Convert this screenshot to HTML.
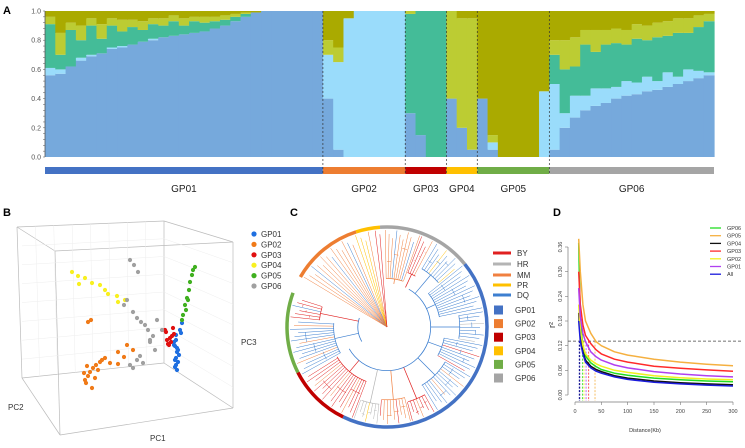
<!DOCTYPE html>
<html><head><meta charset="utf-8"><style>
body{margin:0;background:#fff}
svg{display:block;font-family:"Liberation Sans",Arial,sans-serif}
</style></head><body>
<svg id="fig" width="745" height="448" viewBox="0 0 745 448" xmlns="http://www.w3.org/2000/svg">
<text x="3" y="14" font-size="11" font-weight="bold">A</text>
<text x="3" y="216" font-size="11" font-weight="bold">B</text>
<text x="290" y="216" font-size="11" font-weight="bold">C</text>
<text x="553" y="216" font-size="11" font-weight="bold">D</text>
<g id="pa"></g>
<g id="pb"></g>
<g id="pc"></g>
<g id="pd"></g>
</svg>
<script>
// ===== Panel A data =====
const groupNames = ["GP01","GP02","GP03","GP04","GP05","GP06"];
const groupCounts = [27,8,4,3,7,16];
const groupColors = ["#4472c4","#ed7d31","#c00000","#ffc000","#70ad47","#a5a5a5"];
const kBlue = [.56,.57,.62,.66,.69,.71,.74,.75,.77,.79,.8,.82,.83,.84,.85,.86,.88,.9,.93,.96,.99,1,1,1,1,1,1,
 .4,.05,0,0,0,0,0,0, .3,.15,0,0, .4,.2,.05, .4,.05,0,0,0,0,0,
 .05,.2,.27,.32,.35,.37,.4,.42,.43,.45,.46,.48,.5,.52,.54,.56];
const kLightBlue = [.05,.03,0,.02,.01,0,.01,.01,0,0,.01,0,0,0,0,0,0,0,0,0,0,0,0,0,0,0,0,
 .3,.6,.95,1,1,1,1,1, 0,0,0,0, 0,0,0, 0,.05,0,0,0,0,.45,
 .45,.1,.15,.1,.12,.1,.08,.1,.08,.1,.06,.1,.05,.08,.05,.02];
const kTeal = [.3,.1,.25,.12,.2,.1,.15,.1,.12,.08,.1,.08,.1,.06,.08,.06,.05,.04,.03,.02,0,0,0,0,0,0,0,
 0,0,0,0,0,0,0,0, .68,.85,1,1, 0,0,0, 0,0,0,0,0,0,0,
 .2,.3,.2,.35,.25,.3,.3,.25,.3,.25,.3,.25,.3,.25,.3,.35];
const kYellowGreen = [.05,.15,.05,.1,.05,.1,.05,.08,.05,.06,.04,.05,.04,.05,.03,.04,.03,.03,.02,.01,0,0,0,0,0,0,0,
 .1,.1,0,0,0,0,0,0, .02,0,0,0, .6,.75,.9, 0,.05,0,0,0,0,0,
 .1,.2,.2,.1,.15,.1,.1,.1,.1,.1,.1,.1,.1,.1,.08,.05];
const yTicksA = ["1.0","0.8","0.6","0.4","0.2","0.0"];

// ===== Panel B data =====
const pcaGroups = ["GP01","GP02","GP03","GP04","GP05","GP06"];
const pcaColors = ["#1f6fe0","#f07a18","#e01010","#f8f020","#40b020","#a0a0a0"];
const pcaX = [[177,176,178,175,174,176,177,179,180,176,175,178,182,181,176,174,177,175],
 [93,90,88,86,85,96,100,105,92,95,84,87,98,102,110,118,124,133,88,91,118,127],
 [170,167,168,172,166,174,171,165,169,173],
 [72,78,85,92,100,105,108,117,118,125,79],
 [183,185,187,189,190,192,193,195,186,182,188],
 [130,134,138,127,124,133,137,141,145,148,150,153,155,137,140,143,133,130,157,150,162]];
const pcaY = [[352,358,362,367,345,340,348,355,330,335,360,350,323,333,365,342,370,346],
 [368,372,376,383,380,365,362,358,388,378,373,366,370,360,363,364,357,350,322,320,352,345],
 [338,340,344,336,332,334,342,330,345,328],
 [272,276,278,283,285,290,294,296,302,300,284],
 [315,305,298,290,282,275,270,267,310,320,300],
 [260,265,272,300,305,312,318,322,325,330,342,336,350,360,356,363,368,365,320,340,330]];

// ===== Panel C data =====
const lineageNames = ["BY","HR","MM","PR","DQ"];
const lineageColors = ["#e02020","#b4b4b4","#f08040","#ffc000","#3d7fd0"];
const ringStart = [-39,-150,116,-108,153,-94];
const ringEnd = [116,-108,153,-94,200,-39];
const cladeStart = [-150,-110,-98,-92,-70,-60,-40,-10,10,30,60,75,95,110,150,185];
const cladeEnd = [-112,-100,-92,-70,-60,-40,-10,10,30,60,75,95,110,150,185,198];
const cladeNode = [0,0,0,.5,.6,.7,.55,.75,.6,.7,.8,.75,.8,.6,.55,.7];
const cladeLineage = [2,3,0,2,0,4,4,4,4,4,0,2,1,0,4,0];
const cladeMix = [4,2,2,4,2,3,4,1,0,2,2,0,3,2,2,4];

// ===== Panel D data =====
const ldDist = [7,10,15,20,30,40,50,75,100,150,200,250,300];
const ldNames = ["GP06","GP05","GP04","GP03","GP02","GP01","All"];
const ldColors = ["#22dd22","#f5b040","#111111","#ff2a2a","#f0f020","#b040f0","#1a1adc"];
const ldValues = [
 [0.37,0.18,0.12,0.095,0.078,0.069,0.062,0.053,0.048,0.041,0.037,0.034,0.032],
 [0.38,0.30,0.22,0.18,0.15,0.13,0.12,0.105,0.097,0.087,0.08,0.075,0.071],
 [0.20,0.14,0.105,0.085,0.07,0.062,0.057,0.047,0.041,0.034,0.030,0.027,0.025],
 [0.30,0.22,0.17,0.145,0.125,0.11,0.10,0.087,0.08,0.07,0.065,0.061,0.058],
 [0.22,0.16,0.12,0.10,0.085,0.076,0.07,0.06,0.055,0.047,0.042,0.039,0.037],
 [0.26,0.19,0.15,0.13,0.105,0.093,0.085,0.073,0.066,0.057,0.051,0.047,0.044],
 [0.18,0.13,0.10,0.08,0.066,0.058,0.053,0.044,0.038,0.031,0.027,0.024,0.022]];
const ldHalf = [14,38,9,26,17,21,8];
const ldThreshold = 0.131;
const xTicksD = [0,50,100,150,200,250,300];
const yTicksD = ["0.00","0.06","0.12","0.18","0.24","0.30","0.36"];

const NS="http://www.w3.org/2000/svg";
function mk(tag,attrs,parent,txt){const e=document.createElementNS(NS,tag);for(const k in attrs)e.setAttribute(k,attrs[k]);if(txt!==undefined)e.textContent=txt;parent.appendChild(e);return e;}

// ---- Panel A ----
(function(){
 const g=document.getElementById('pa');
 const L=45,R=714,T=11,B=157;
 const n=kBlue.length, w=(R-L)/n;
 const xs=i=>L+i*w, ys=v=>B-v*(B-T);
 const comps=[kBlue,kLightBlue,kTeal,kYellowGreen];
 const cc=["#76a9dc","#9adcfb","#44bc98","#bccc33","#aaaa00"];
 for(let i=0;i<n;i++){
  let acc=0;
  const vals=comps.map(a=>a[i]); vals.push(Math.max(0,1-vals.reduce((s,v)=>s+v,0)));
  vals.forEach((v,k)=>{ if(v<=0)return;
   const r=mk('rect',{x:xs(i),y:ys(Math.min(1,acc+v)),width:w+0.6,height:Math.min(v,1-acc)*(B-T),fill:cc[k]},g);
   
   
   acc+=v;});
 }
 const ax=mk('line',{x1:L,y1:T,x2:L,y2:B,stroke:'#555','stroke-width':0.8},g);
 
 yTicksA.forEach((t,i)=>{const y=T+i*(B-T)/5;
  const tx=mk('text',{x:L-4,y:y+2.5,'font-size':7,'text-anchor':'end',fill:'#555'},g,t);
  
  const nm=i<5?5:1;
  for(let m=0;m<nm;m++){mk('line',{x1:L-2,y1:y+m*(B-T)/25,x2:L,y2:y+m*(B-T)/25,stroke:'#555','stroke-width':0.5},g);}
 });
 let start=0;
 groupCounts.forEach((c,gi)=>{
  const x0=xs(start),x1=xs(start+c);
  const r=mk('rect',{x:x0,y:167,width:x1-x0,height:7,fill:groupColors[gi]},g);
  
  const t=mk('text',{x:(x0+x1)/2,y:192,'font-size':10,'text-anchor':'middle',fill:'#222'},g,groupNames[gi]);
  
  if(gi>0){const d=mk('line',{x1:x0,y1:T,x2:x0,y2:174,stroke:'#333','stroke-width':0.7,'stroke-dasharray':'2,2'},g);
   }
  start+=c;
 });
})();

// ---- Panel B ----
(function(){
 const g=document.getElementById('pb');
 const P={btl:[17,227],btr:[164,221],ftl:[55,251],ftr:[233,242],fbr:[233,408],fbl:[60,435],bbl:[22,378],bbr:[164,363]};
 const edges=[['btl','btr'],['btl','ftl'],['btr','ftr'],['ftl','ftr'],['ftr','fbr'],['fbr','fbl'],['ftl','fbl'],['btl','bbl'],['bbl','fbl'],['bbl','bbr'],['bbr','fbr'],['bbr','btr']];
 edges.forEach(e=>{const l=mk('line',{x1:P[e[0]][0],y1:P[e[0]][1],x2:P[e[1]][0],y2:P[e[1]][1],stroke:'#bbb','stroke-width':0.7},g);
  });
 for(let k=1;k<8;k++){const f=k/8;
  mk('line',{x1:22+142*f,y1:378-15*f,x2:17+147*f,y2:227-6*f,stroke:'#eee','stroke-width':0.5},g);
  mk('line',{x1:164,y1:363-142*f,x2:22,y2:378-151*f,stroke:'#eee','stroke-width':0.5},g);
  mk('line',{x1:164,y1:221+142*f,x2:233,y2:242+166*f,stroke:'#eee','stroke-width':0.5},g);
 }
 pcaX.forEach((arr,gi)=>arr.forEach((x,i)=>{
  const c=mk('circle',{cx:x,cy:pcaY[gi][i],r:2.1,fill:pcaColors[gi]},g);
  }));
 pcaGroups.forEach((n,i)=>{const y=234+i*10.4;
  const c=mk('circle',{cx:254,cy:y,r:2.6,fill:pcaColors[i]},g);
  
  const t=mk('text',{x:261,y:y+3,'font-size':8,fill:'#333'},g,n);
  });
 [['PC1',150,441],['PC3',241,345],['PC2',8,410]].forEach(a=>{
  const t=mk('text',{x:a[1],y:a[2],'font-size':8,fill:'#333'},g,a[0]);
  });
})();

// ---- Panel C ----
(function(){
 const g=document.getElementById('pc');
 const cx=387,cy=327,R=97;
 const pt=(a,r)=>[cx+r*Math.cos(a*Math.PI/180),cy+r*Math.sin(a*Math.PI/180)];
 function arc(a0,a1,r,col,w,name){
  const p0=pt(a0,r),p1=pt(a1,r);const large=(a1-a0)>180?1:0;
  const p=mk('path',{d:`M${p0[0]},${p0[1]} A${r},${r} 0 ${large} 1 ${p1[0]},${p1[1]}`,fill:'none',stroke:col,'stroke-width':w},g);
  }
 arc(-60,150,R*0.45,'#3d7fd0',0.8,'tree-backbone');
 arc(150,198,R*0.3,'#3d7fd0',0.8,'tree-backbone');
 cladeStart.forEach((a0,ci)=>{
  const a1=cladeEnd[ci], nr=cladeNode[ci]*R;
  const col=lineageColors[cladeLineage[ci]], mix=lineageColors[cladeMix[ci]];
  let k=0;
  const step=nr===0?2.6:2.3;
  for(let a=a0+1;a<a1;a+=step,k++){
   const c=(k%5===3)?mix:col;
   const p0=nr===0?[cx,cy]:pt(a,nr), p1=pt(a,R-(k%3)*4);
   const l=mk('line',{x1:p0[0],y1:p0[1],x2:p1[0],y2:p1[1],stroke:c,'stroke-width':0.5},g);
   
  }
  if(nr>0){arc(a0+0.8,a1-0.8,nr,col,0.7,'clade-arc');
   for(let s=0;s<3;s++){arc(a0+2+s*(a1-a0)/4,a0+(s+1)*(a1-a0)/4,nr+(R-nr)*(0.35+s*0.15),col,0.5,'subclade-arc');}
   const m=(a0+a1)/2, base=(a0>=150?0.3:0.45)*R, q0=pt(m,base), q1=pt(m,nr);
   const s=mk('line',{x1:q0[0],y1:q0[1],x2:q1[0],y2:q1[1],stroke:col,'stroke-width':0.7},g);
   }
 });
 ringStart.forEach((a0,i)=>arc(a0,ringEnd[i],R+3,groupColors[i],3.5,'group-ring-'+groupNames[i].toLowerCase()));
 const ys=[253,264,275,285,295];
 lineageNames.forEach((n,i)=>{
  const l=mk('line',{x1:493,y1:ys[i],x2:511,y2:ys[i],stroke:lineageColors[i],'stroke-width':3},g);
  
  const t=mk('text',{x:517,y:ys[i]+3,'font-size':8,fill:'#333'},g,n);
  });
 groupNames.forEach((n,i)=>{const y=310+i*13.6;
  const r=mk('rect',{x:494,y:y-4.5,width:9,height:9,fill:groupColors[i]},g);
  
  const t=mk('text',{x:515,y:y+3,'font-size':8,fill:'#333'},g,n);
  });
})();

// ---- Panel D ----
(function(){
 const g=document.getElementById('pd');
 const L=575,Rr=733,T=247,B=395;
 const xs=d=>L+d/300*(Rr-L), ys=v=>B-v/0.36*(B-T);
 const ax=mk('line',{x1:568,y1:ys(0.36),x2:568,y2:B,stroke:'#777','stroke-width':0.7},g);
 
 yTicksD.forEach((t,i)=>{const y=ys(i*0.06);
  mk('line',{x1:565,y1:y,x2:568,y2:y,stroke:'#777','stroke-width':0.6},g);
  const tx=mk('text',{x:562,y:y,'font-size':5.5,fill:'#444','text-anchor':'middle',transform:`rotate(-90 562 ${y})`},g,t);
  });
 const xa=mk('line',{x1:xs(0),y1:402,x2:xs(300),y2:402,stroke:'#777','stroke-width':0.7},g);
 
 xTicksD.forEach(t=>{const x=xs(t);
  mk('line',{x1:x,y1:402,x2:x,y2:405,stroke:'#777','stroke-width':0.6},g);
  const tx=mk('text',{x:x,y:413,'font-size':5.5,fill:'#444','text-anchor':'middle'},g,t);
  });
 const xt=mk('text',{x:645,y:432,'font-size':5.5,fill:'#333','text-anchor':'middle'},g,'Distance(Kb)');
 
 const yt=mk('text',{x:555,y:325,'font-size':9,fill:'#222','text-anchor':'middle',transform:'rotate(-90 555 325)'},g,'r²');
 
 const th=mk('line',{x1:568,y1:ys(ldThreshold),x2:743,y2:ys(ldThreshold),stroke:'#444','stroke-width':0.7,'stroke-dasharray':'3,2'},g);
 
 ldHalf.forEach((d,i)=>{const v=mk('line',{x1:xs(d),y1:ys(ldThreshold),x2:xs(d),y2:B+6,stroke:ldColors[i],'stroke-width':0.8,'stroke-dasharray':'2,1.5'},g);
  });
 ldValues.forEach((vals,i)=>{
  const pts=vals.map((v,k)=>xs(ldDist[k]).toFixed(1)+','+ys(v).toFixed(1)).join(' ');
  const p=mk('polyline',{points:pts,fill:'none',stroke:ldColors[i],'stroke-width':1.5,'stroke-linejoin':'round'},g);
  });
 ldNames.forEach((n,i)=>{const y=228+i*7.7;
  const l=mk('line',{x1:710,y1:y,x2:721,y2:y,stroke:ldColors[i],'stroke-width':1.3},g);
  
  const t=mk('text',{x:727,y:y+2,'font-size':5.5,fill:'#333'},g,n);
  });
})();
</script>
</body></html>
